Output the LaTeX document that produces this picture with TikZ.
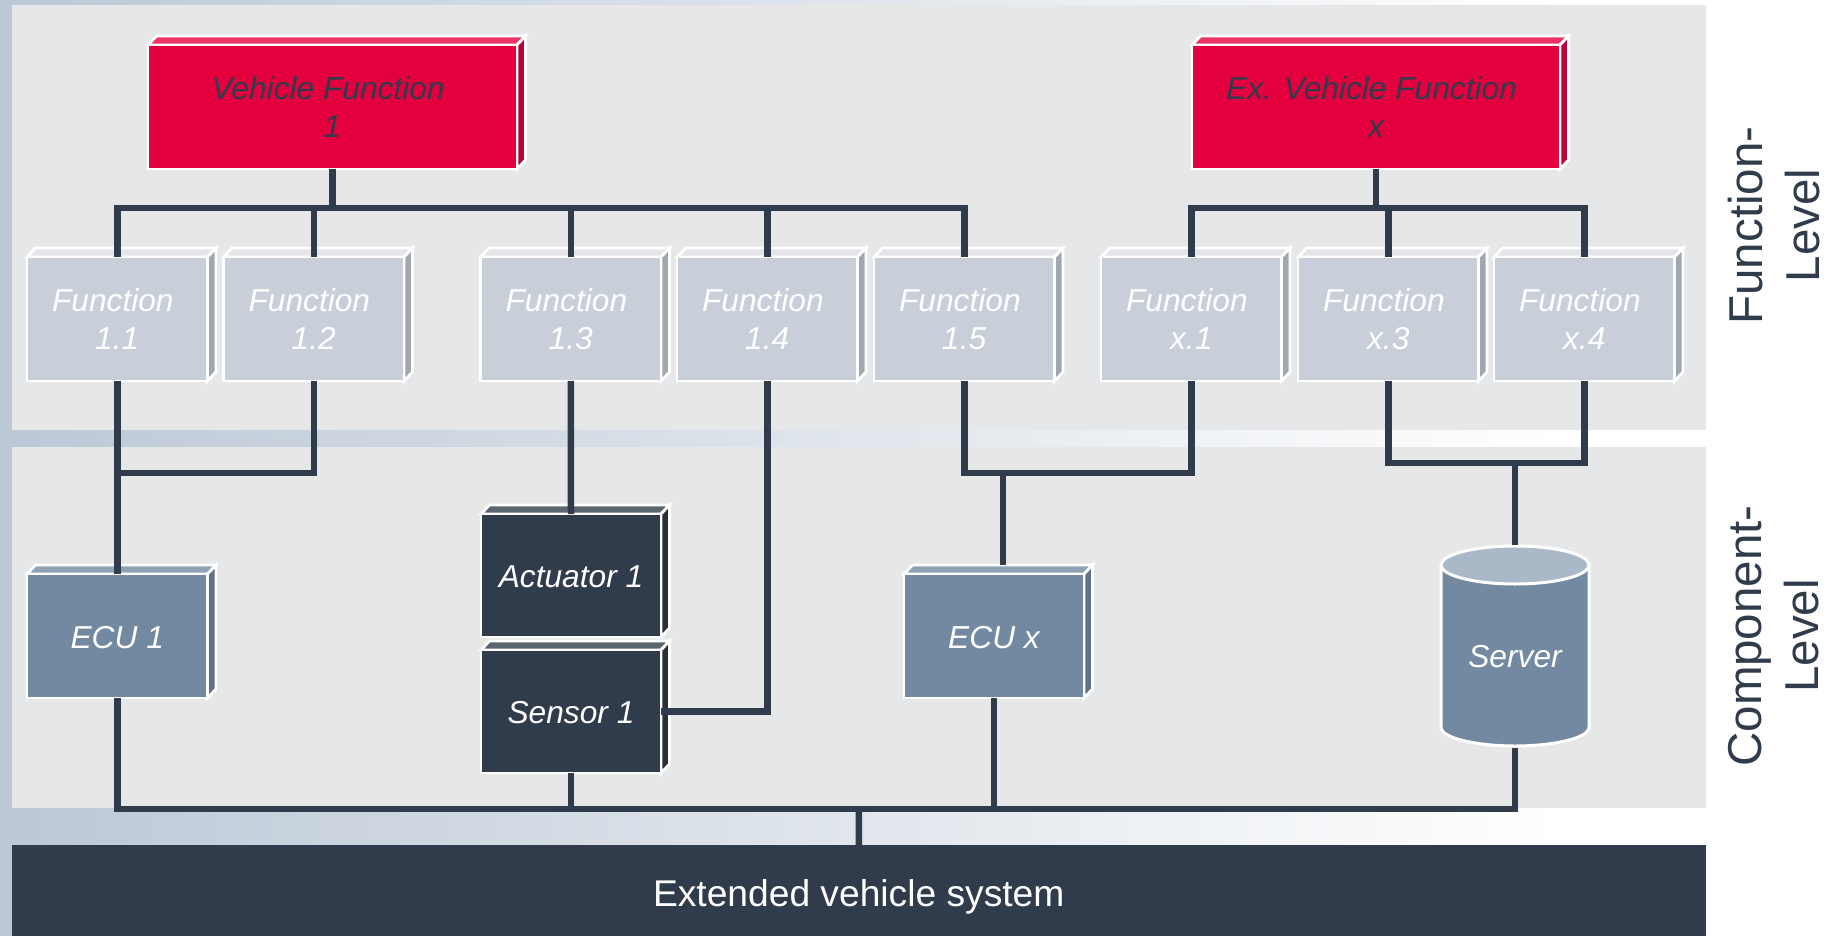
\documentclass[tikz,border=0pt]{standalone}
\usepackage{fontspec}
\setmainfont{Liberation Sans}
\definecolor{panel}{HTML}{E6E7E9}
\definecolor{bgleft}{HTML}{BCC8D6}
\definecolor{ink}{HTML}{303C4B}
\definecolor{redF}{HTML}{E4003F}
\definecolor{redT}{HTML}{EE3366}
\definecolor{redS}{HTML}{B8003A}
\definecolor{greyF}{HTML}{C8CFD9}
\definecolor{greyT}{HTML}{E3E5E9}
\definecolor{greyS}{HTML}{A1A7AE}
\definecolor{blueF}{HTML}{7389A2}
\definecolor{blueT}{HTML}{8FA1B5}
\definecolor{blueS}{HTML}{5F7288}
\definecolor{darkF}{HTML}{303C4B}
\definecolor{darkT}{HTML}{5C6570}
\definecolor{darkS}{HTML}{262F3B}
\definecolor{cyltop}{HTML}{AAB8C8}
\tikzset{
  conn/.style={draw=ink,line width=6.5pt,line join=miter,line cap=butt},
  boxtext/.style={font=\fontsize{31.7}{38.5}\selectfont\itshape,align=center,inner sep=0pt,outer sep=0pt},
  sidetext/.style={font=\fontsize{47.5}{57}\selectfont,text=ink,align=center,rotate=90,inner sep=0pt},
}
% name, colour prefix, left, top, right, bottom, text colour, text
\newcommand{\cuboid}[8]{%
  \path[fill=#2T,draw=white,line width=2.8pt,line join=miter]
    (#3,#4) -- ({#3+8.5},{#4-9}) -- ({#5+8.5},{#4-9}) -- (#5,#4) -- cycle;
  \path[fill=#2S,draw=white,line width=2.8pt,line join=miter]
    (#5,#4) -- ({#5+8.5},{#4-9}) -- ({#5+8.5},{#6-9}) -- (#5,#6) -- cycle;
  \pgfmathsetmacro{\boxw}{#5-#3}\pgfmathsetmacro{\boxh}{#6-#4}
  \node[boxtext,fill=#2F,draw=white,line width=2.8pt,text=#7,anchor=north west,
        minimum width=\boxw pt,minimum height=\boxh pt] (#1) at (#3,#4) {#8};
}
\newcommand{\tsp}{\hspace*{0.278em}}
\newcommand{\lowered}[2]{\raisebox{-#1pt}[0pt][0pt]{#2}}
\begin{document}
\begin{tikzpicture}[x=1pt,y=-1pt]
\useasboundingbox (0,0) rectangle (1827,936);
\fill[white] (0,0) rectangle (1827,936);
\shade[left color=bgleft,right color=white,shading=axis] (0,0) rectangle (1560,936);
\fill[panel] (11.5,5) rectangle (1706,430);
\fill[panel] (11.5,447) rectangle (1706,808);

\cuboid{vf1}{red}{148}{45}{517}{169}{ink}{Vehicle Function\tsp\\1}
\cuboid{vfx}{red}{1192}{45}{1560}{169}{ink}{Ex. Vehicle Function\tsp\\x}

\cuboid{f11}{grey}{27}{257}{207.5}{381}{white}{Function\tsp\\1.1}
\cuboid{f12}{grey}{223.5}{257}{404}{381}{white}{Function\tsp\\1.2}
\cuboid{f13}{grey}{480.5}{257}{661}{381}{white}{Function\tsp\\1.3}
\cuboid{f14}{grey}{677}{257}{857.5}{381}{white}{Function\tsp\\1.4}
\cuboid{f15}{grey}{874}{257}{1054.5}{381}{white}{Function\tsp\\1.5}
\cuboid{fx1}{grey}{1101}{257}{1281.5}{381}{white}{Function\tsp\\x.1}
\cuboid{fx3}{grey}{1298}{257}{1478.5}{381}{white}{Function\tsp\\x.3}
\cuboid{fx4}{grey}{1494}{257}{1674.5}{381}{white}{Function\tsp\\x.4}

\cuboid{ecu1}{blue}{27}{574}{207.5}{698}{white}{\lowered{12.3}{ECU 1}}
\cuboid{ecux}{blue}{904}{574}{1084}{698}{white}{\lowered{12.3}{ECU x}}
\cuboid{act}{dark}{481}{514}{661}{637}{white}{\lowered{12.3}{Actuator 1}}
\cuboid{sen}{dark}{481}{650}{661}{773}{white}{\lowered{12.3}{Sensor 1}}

% server cylinder
\path[fill=blueF,draw=white,line width=3pt]
  (1441,565) -- (1441,727) .. controls (1441,739) and (1480,746) .. (1515,746)
  .. controls (1550,746) and (1589,739) .. (1589,727) -- (1589,565) -- cycle;
\path[fill=cyltop,draw=white,line width=3pt]
  (1515,565) ellipse [x radius=74,y radius=19];
\node[boxtext,text=white,minimum width=150pt,minimum height=203pt] (server) at (1515,646) {\lowered{21}{Server}};

\node[fill=ink,text=white,font=\fontsize{37.2}{44}\selectfont,minimum width=1694.5pt,minimum height=91pt,inner sep=0pt,outer sep=0pt,anchor=north west] (ext) at (11.5,845) {\lowered{15.5}{Extended vehicle system}};

\node[sidetext] (lf) at (1774,225.5) {Function-\\Level};
\node[sidetext] (lc) at (1774,636) {Component-\\Level};

\coordinate (busA) at (332.5,208);
\coordinate (busB) at (1376,208);
\coordinate (joinA) at (117,473);
\coordinate (joinB) at (1003,473);
\coordinate (joinC) at (1515,463);
\coordinate (busD) at (859,809);
\coordinate (ecuxtop) at (1003,565);

\draw[conn] (vf1.south) -- (busA);
\draw[conn] (f11.north) -- (f11.north |- busA) -- (f15.north |- busA) -- (f15.north);
\draw[conn] (f12.north) -- (f12.north |- busA);
\draw[conn] (f13.north) -- (f13.north |- busA);
\draw[conn] (f14.north) -- (f14.north |- busA);
\draw[conn] (vfx.south) -- (vfx.south |- busB);
\draw[conn] (fx1.north) -- (fx1.north |- busB) -- (fx4.north |- busB) -- (fx4.north);
\draw[conn] (fx3.north) -- (fx3.north |- busB);

\draw[conn] (f11.south) -- (ecu1.north);
\draw[conn] (f12.south) -- (f12.south |- joinA) -- (joinA);
\draw[conn] (f13.south) -- (act.north);
\draw[conn] (sen.east) -| (f14.south);
\draw[conn] (f15.south) -- (f15.south |- joinB) -- (fx1.south |- joinB) -- (fx1.south);
\draw[conn] (joinB) -- (ecuxtop);
\draw[conn] (fx3.south) -- (fx3.south |- joinC) -- (fx4.south |- joinC) -- (fx4.south);
\draw[conn] (joinC) -- (server.north);

\draw[conn] (ecu1.south) -- (ecu1.south |- busD) -- (server.south |- busD) -- (server.south);
\draw[conn] (sen.south) -- (sen.south |- busD);
\draw[conn] (ecux.south) -- (ecux.south |- busD);
\draw[conn] (busD) -- (ext.north);
\end{tikzpicture}
\end{document}
